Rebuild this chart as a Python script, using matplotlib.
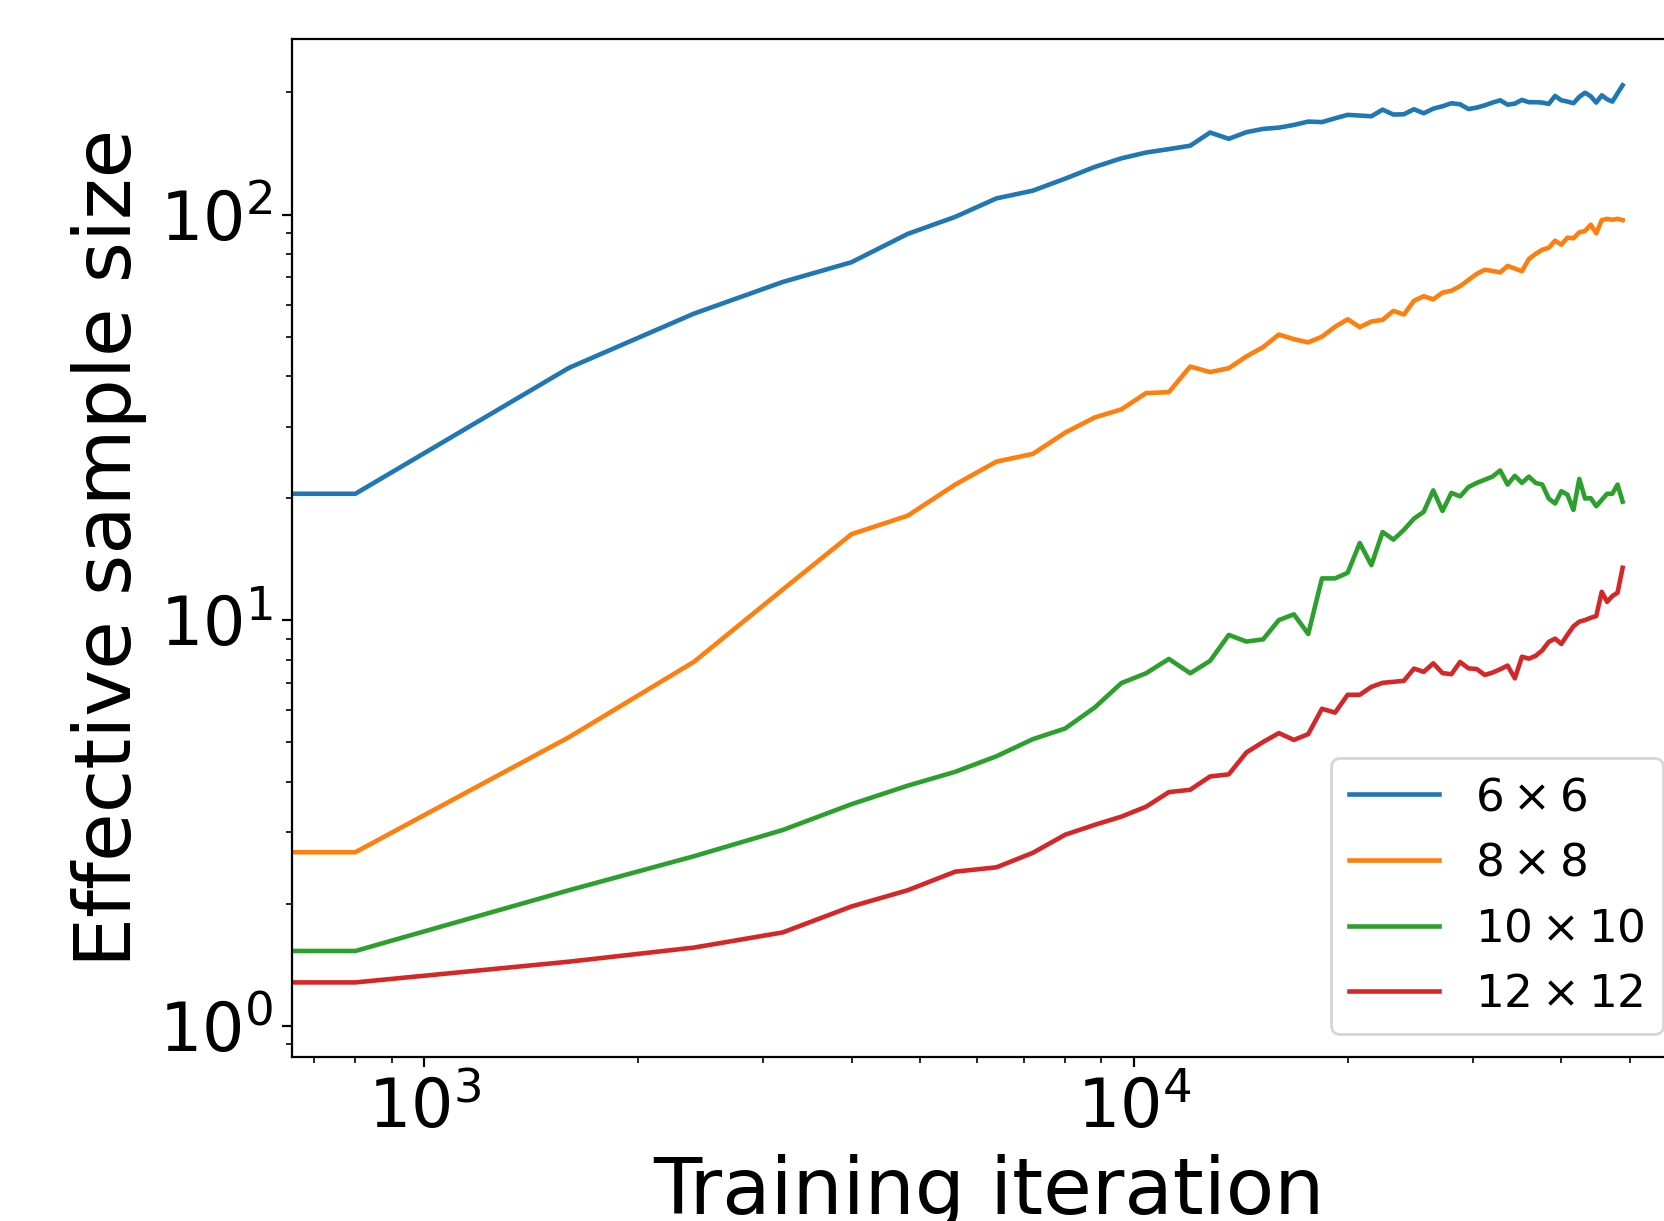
import matplotlib
matplotlib.use("Agg")
import matplotlib.pyplot as plt
import numpy as np

# training iterations, evaluated every 800 steps
step = 800
n_points = 62
iterations = step * np.arange(n_points)

ess_6x6 = [20.5, 20.5, 41.9, 57.0, 68.2, 76.3, 89.6, 98.7, 109.6, 114.5, 122.6, 131.0,
           137.6, 142.2, 145.0, 147.8, 159.3, 153.7, 159.6, 162.6, 163.8, 166.3, 169.5,
           169.0, 172.7, 176.1, 175.4, 174.7, 181.4, 176.4, 176.7, 181.8, 177.7, 182.4,
           184.9, 188.1, 187.0, 182.0, 183.5, 185.9, 188.8, 191.3, 186.6, 187.7, 191.7,
           189.2, 189.2, 188.8, 187.4, 196.1, 191.3, 189.9, 188.1, 195.0, 199.7, 195.7,
           188.8, 196.8, 192.4, 189.9, 199.1, 208.3]

ess_8x8 = [2.68, 2.68, 5.15, 7.9, 11.9, 16.3, 18.1, 21.6, 24.6, 25.7, 29.0, 31.6,
           33.1, 36.3, 36.5, 42.2, 40.9, 41.8, 44.7, 47.1, 50.6, 49.3, 48.4,
           50.0, 52.9, 55.2, 52.8, 54.5, 55.0, 57.9, 56.7, 61.3, 62.9, 61.8,
           64.2, 64.9, 66.6, 69.0, 71.4, 73.1, 72.6, 72.0, 74.7, 73.6, 72.5,
           77.7, 80.0, 81.9, 82.8, 86.2, 84.3, 87.7, 87.4, 90.4, 91.1, 94.4,
           89.9, 96.9, 97.6, 97.1, 97.6, 96.9]

ess_10x10 = [1.53, 1.53, 2.16, 2.62, 3.04, 3.52, 3.91, 4.23, 4.62, 5.09, 5.41, 6.09,
             7.0, 7.4, 8.03, 7.4, 7.94, 9.2, 8.86, 8.97, 10.01, 10.34, 9.25,
             12.68, 12.68, 13.09, 15.5, 13.67, 16.5, 15.8, 16.7, 17.8, 18.5, 20.9,
             18.6, 20.6, 20.2, 21.3, 21.8, 22.2, 22.6, 23.4, 21.6, 22.7, 21.8,
             22.6, 21.8, 21.6, 19.95, 19.4, 20.8, 20.4, 18.7, 22.3, 19.95, 20.0,
             19.1, 19.8, 20.5, 20.5, 21.6, 19.6]

ess_12x12 = [1.09, 1.28, 1.44, 1.56, 1.70, 1.97, 2.16, 2.40, 2.46, 2.67, 2.96, 3.13,
             3.28, 3.47, 3.77, 3.82, 4.12, 4.17, 4.72, 5.01, 5.27, 5.07, 5.24,
             6.05, 5.92, 6.55, 6.55, 6.85, 7.01, 7.05, 7.09, 7.60, 7.46, 7.83,
             7.41, 7.36, 7.89, 7.61, 7.58, 7.33, 7.43, 7.57, 7.73, 7.19, 8.13,
             8.04, 8.17, 8.43, 8.84, 9.01, 8.74, 9.21, 9.66, 9.92, 10.01, 10.14,
             10.24, 11.75, 11.1, 11.47, 11.69, 13.47]

labels = [r'$6\times6$', r'$8\times8$', r'$10\times10$', r'$12\times12$']

fig = plt.figure(figsize=(1664 / 200, 1221 / 200), dpi=200)
ax = fig.add_axes([292 / 1664, 1 - 1057 / 1221, (1686 - 292) / 1664, (1057 - 39) / 1221])

for ess, lab in zip([ess_6x6, ess_8x8, ess_10x10, ess_12x12], labels):
    ax.plot(iterations, ess, label=lab, linewidth=1.65)

ax.set_xscale('log')
ax.set_yscale('log')
ax.set_xlabel('Training iteration', fontsize=28.5)
ax.set_ylabel('Effective sample size', fontsize=28.5)
ax.tick_params(axis='both', which='major', labelsize=24)
ax.legend(loc='lower right', fontsize=16.3)

fig.savefig('out.png', dpi=200)
